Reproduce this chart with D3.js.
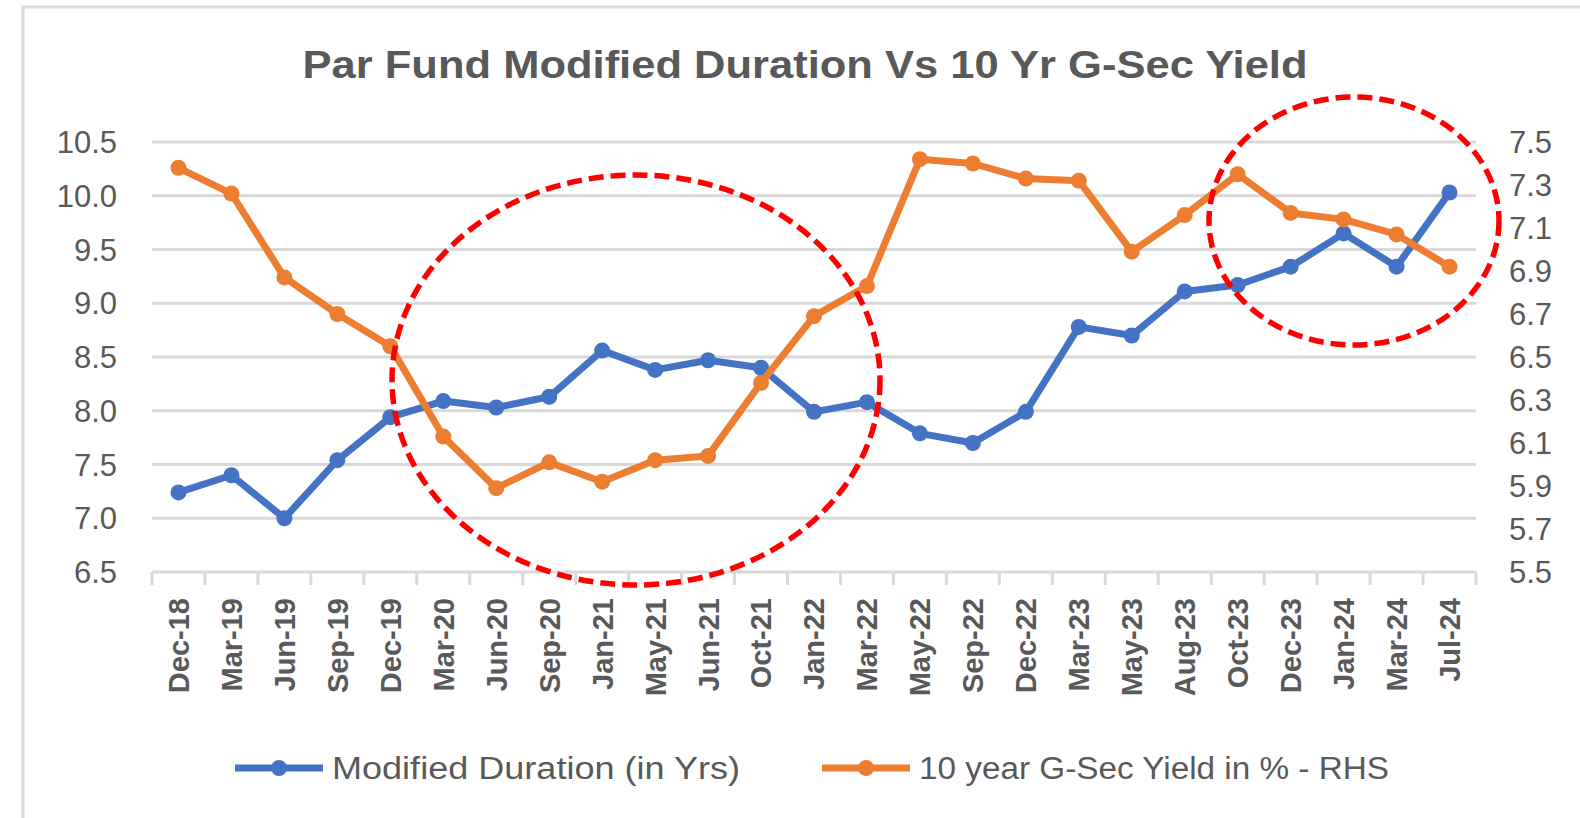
<!DOCTYPE html>
<html>
<head>
<meta charset="utf-8">
<script src="https://cdn.jsdelivr.net/npm/d3@7"></script>
<style>
    body { margin: 0; background: #ffffff; }
    svg text { font-family: "Liberation Sans", Arial, sans-serif; fill: #595959; }
</style>
</head>
<body>
<div id="chart"></div>
<script>
const categories = [
    'Dec-18', 'Mar-19', 'Jun-19', 'Sep-19', 'Dec-19', 'Mar-20', 'Jun-20', 'Sep-20',
    'Jan-21', 'May-21', 'Jun-21', 'Oct-21', 'Jan-22', 'Mar-22', 'May-22', 'Sep-22',
    'Dec-22', 'Mar-23', 'May-23', 'Aug-23', 'Oct-23', 'Dec-23', 'Jan-24', 'Mar-24', 'Jul-24'
];

// left axis, years
const modifiedDuration = [
    7.24, 7.40, 7.00, 7.54, 7.94, 8.09, 8.03, 8.13, 8.56, 8.38, 8.47, 8.40, 7.99,
    8.08, 7.79, 7.70, 7.99, 8.78, 8.70, 9.11, 9.17, 9.34, 9.65, 9.34, 10.03
];

// right axis, %
const gsecYield = [
    7.38, 7.26, 6.87, 6.70, 6.55, 6.13, 5.89, 6.01, 5.92, 6.02, 6.04, 6.38, 6.69,
    6.83, 7.42, 7.40, 7.33, 7.32, 6.99, 7.16, 7.35, 7.17, 7.14, 7.07, 6.92
];

const leftTicks = [6.5, 7.0, 7.5, 8.0, 8.5, 9.0, 9.5, 10.0, 10.5];
const rightTicks = [5.5, 5.7, 5.9, 6.1, 6.3, 6.5, 6.7, 6.9, 7.1, 7.3, 7.5];

const seriesNames = ['Modified Duration (in Yrs)', '10 year G-Sec Yield in % - RHS'];
const chartTitle = 'Par Fund Modified Duration Vs 10 Yr G-Sec Yield';

const BLUE = '#4472C4';
const ORANGE = '#ED7D31';
const GRID = '#d9d9d9';

function createChart() {
    const width = 1580;
    const height = 818;
    const plot = { left: 152, right: 1476, top: 142, bottom: 572 };

    const svg = d3.select('#chart')
        .append('svg')
        .attr('width', width)
        .attr('height', height);

    // chart border (runs off the right and bottom of the picture)
    svg.append('rect')
        .attr('x', 23)
        .attr('y', 7)
        .attr('width', 1700)
        .attr('height', 900)
        .attr('fill', 'none')
        .attr('stroke', GRID)
        .attr('stroke-width', 3);

    svg.append('text')
        .attr('x', 805)
        .attr('y', 78)
        .attr('text-anchor', 'middle')
        .attr('font-size', 38)
        .attr('font-weight', 'bold')
        .attr('textLength', 1005)
        .attr('lengthAdjust', 'spacingAndGlyphs')
        .text(chartTitle);

    const x = d3.scaleBand()
        .domain(categories)
        .range([plot.left, plot.right]);

    const yLeft = d3.scaleLinear()
        .domain([6.5, 10.5])
        .range([plot.bottom, plot.top]);

    const yRight = d3.scaleLinear()
        .domain([5.5, 7.5])
        .range([plot.bottom, plot.top]);

    // gridlines
    svg.append('g')
        .selectAll('line')
        .data(leftTicks.slice(1))
        .enter().append('line')
        .attr('x1', plot.left)
        .attr('x2', plot.right)
        .attr('y1', d => yLeft(d))
        .attr('y2', d => yLeft(d))
        .attr('stroke', GRID)
        .attr('stroke-width', 3);

    // left axis labels
    svg.append('g')
        .selectAll('text')
        .data(leftTicks)
        .enter().append('text')
        .attr('x', 117)
        .attr('y', d => yLeft(d))
        .attr('dy', '0.36em')
        .attr('text-anchor', 'end')
        .attr('font-size', 31)
        .text(d => d3.format('.1f')(d));

    // right axis labels
    svg.append('g')
        .selectAll('text')
        .data(rightTicks)
        .enter().append('text')
        .attr('x', 1509)
        .attr('y', d => yRight(d))
        .attr('dy', '0.36em')
        .attr('text-anchor', 'start')
        .attr('font-size', 31)
        .text(d => d3.format('.1f')(d));

    // category axis with ticks between bands
    const xAxis = svg.append('g')
        .attr('transform', `translate(0,${plot.bottom})`);

    xAxis.append('line')
        .attr('x1', plot.left)
        .attr('x2', plot.right)
        .attr('stroke', GRID)
        .attr('stroke-width', 3);

    const boundaries = categories.map(c => x(c)).concat([plot.right]);
    xAxis.selectAll('.tick-mark')
        .data(boundaries)
        .enter().append('line')
        .attr('class', 'tick-mark')
        .attr('x1', d => d)
        .attr('x2', d => d)
        .attr('y1', 0)
        .attr('y2', 13)
        .attr('stroke', GRID)
        .attr('stroke-width', 3);

    xAxis.selectAll('text')
        .data(categories)
        .enter().append('text')
        .attr('transform', d => `translate(${x(d) + x.bandwidth() / 2},26) rotate(-90)`)
        .attr('dy', '0.36em')
        .attr('text-anchor', 'end')
        .attr('font-size', 29)
        .attr('font-weight', 'bold')
        .text(d => d);

    function drawSeries(values, yScale, colour) {
        const pts = values.map((v, i) => [x(categories[i]) + x.bandwidth() / 2, yScale(v)]);
        const g = svg.append('g');
        g.append('path')
            .attr('d', d3.line()(pts))
            .attr('fill', 'none')
            .attr('stroke', colour)
            .attr('stroke-width', 7)
            .attr('stroke-linejoin', 'round');
        g.selectAll('circle')
            .data(pts)
            .enter().append('circle')
            .attr('cx', d => d[0])
            .attr('cy', d => d[1])
            .attr('r', 8)
            .attr('fill', colour);
    }

    drawSeries(modifiedDuration, yLeft, BLUE);
    drawSeries(gsecYield, yRight, ORANGE);

    // highlight ellipses
    const ellipses = [
        { cx: 636, cy: 380, rx: 244, ry: 205 },
        { cx: 1354, cy: 221, rx: 145, ry: 124 }
    ];

    svg.append('g')
        .selectAll('ellipse')
        .data(ellipses)
        .enter().append('ellipse')
        .attr('cx', d => d.cx)
        .attr('cy', d => d.cy)
        .attr('rx', d => d.rx)
        .attr('ry', d => d.ry)
        .attr('fill', 'none')
        .attr('stroke', '#FF0000')
        .attr('stroke-width', 5.5)
        .attr('stroke-dasharray', '15,7');

    // legend
    const legendItems = [
        { name: seriesNames[0], colour: BLUE, x: 235, textWidth: 408 },
        { name: seriesNames[1], colour: ORANGE, x: 822, textWidth: 470 }
    ];

    const legend = svg.append('g')
        .selectAll('g')
        .data(legendItems)
        .enter().append('g')
        .attr('transform', d => `translate(${d.x},768)`);

    legend.append('line')
        .attr('x1', 0)
        .attr('x2', 88)
        .attr('stroke', d => d.colour)
        .attr('stroke-width', 7);

    legend.append('circle')
        .attr('cx', 44)
        .attr('r', 8)
        .attr('fill', d => d.colour);

    legend.append('text')
        .attr('x', 97)
        .attr('dy', '0.36em')
        .attr('font-size', 31)
        .attr('textLength', d => d.textWidth)
        .attr('lengthAdjust', 'spacingAndGlyphs')
        .text(d => d.name);
}

createChart();
</script>
</body>
</html>
